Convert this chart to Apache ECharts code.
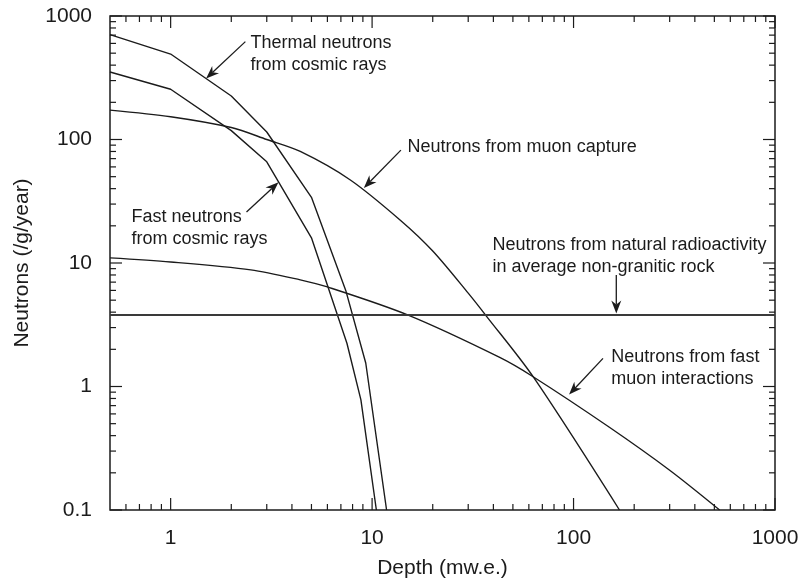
<!DOCTYPE html>
<html>
<head>
<meta charset="utf-8">
<title>Neutron production versus depth</title>
<script src="https://cdn.jsdelivr.net/npm/echarts@6/dist/echarts.min.js"></script>
<style>
  html, body { margin: 0; padding: 0; background: #ffffff; }
  #chart { width: 802px; height: 584px; }
</style>
</head>
<body>
<div id="chart"></div>
<script>
// Depth in metres of water equivalent, neutron yield in neutrons per gram per year.
const thermalDepth = [0.5, 1, 2, 3, 5, 7.4, 9.3, 11.8];
const thermalYield = [706, 492, 225, 115, 34, 6.0, 1.55, 0.1];

const fastDepth = [0.5, 1, 2, 3, 5, 7.5, 8.8, 10.5];
const fastYield = [352, 255, 118, 66, 16, 2.24, 0.78, 0.1];

const captureDepth = [0.5, 1, 2, 3, 4.4, 7.8, 13.9, 20, 30, 37, 63, 169];
const captureYield = [173, 153, 125, 100, 80, 47, 22, 12.5, 5.7, 3.7, 1.2, 0.1];

const fastMuonDepth = [0.5, 1, 2.5, 4.4, 6, 15, 43, 63, 150, 300, 531];
const fastMuonYield = [11, 10.2, 8.8, 7.3, 6.4, 3.8, 1.72, 1.2, 0.47, 0.21, 0.1];

const rockDepth = [0.5, 1000];
const rockYield = [3.8, 3.8];

const xTickLabels = ['1', '10', '100', '1000'];
const yTickLabels = ['0.1', '1', '10', '100', '1000'];

// Callouts: label lines, first-line anchor, arrow tail and arrow tip (data units).
const callouts = [
  { lines: ['Thermal neutrons', 'from cosmic rays'], at: [2.49, 604], from: [2.35, 620], to: [1.5, 312] },
  { lines: ['Neutrons from muon capture'], at: [15.0, 87.5], from: [13.9, 82], to: [9.1, 40.5] },
  { lines: ['Fast neutrons', 'from cosmic rays'], at: [0.64, 23.7], from: [2.38, 25.9], to: [3.43, 45] },
  { lines: ['Neutrons from natural radioactivity', 'in average non-granitic rock'], at: [39.6, 14.0], from: [163, 8.0], to: [163, 3.9] },
  { lines: ['Neutrons from fast', 'muon interactions'], at: [154, 1.74], from: [140, 1.69], to: [95, 0.86] }
];

const FONT = '"Liberation Sans", Arial, Helvetica, sans-serif';
const INK = '#1b1b1b';

function pairs(xs, ys) { return xs.map((x, i) => [x, ys[i]]); }

function isDecade(v) {
  const l = Math.log10(v);
  return Math.abs(l - Math.round(l)) < 1e-6;
}

// Log-axis tick marks: majors at decades, minors at 2..9 of each decade.
const X_MIN = 0.5, X_MAX = 1000, Y_MIN = 0.1, Y_MAX = 1000;
const tickMarks = [];
for (let d = -1; d <= 3; d++) {
  for (let k = 1; k <= 9; k++) {
    const v = +(k * Math.pow(10, d)).toPrecision(6);
    if (v > X_MIN && v <= X_MAX + 1e-9) tickMarks.push([v, Y_MIN, 0, k === 1 ? 1 : 0]);
    if (v >= Y_MIN - 1e-9 && v <= Y_MAX + 1e-9) tickMarks.push([X_MIN, v, 1, k === 1 ? 1 : 0]);
  }
}

function renderTick(params, api) {
  const cs = params.coordSys;
  const p = api.coord([api.value(0), api.value(1)]);
  const len = api.value(3) ? 12 : 6;
  const style = { stroke: INK, lineWidth: 1.2 };
  if (api.value(2) === 0) {
    return { type: 'group', children: [
      { type: 'line', shape: { x1: p[0], y1: cs.y + cs.height, x2: p[0], y2: cs.y + cs.height - len }, style },
      { type: 'line', shape: { x1: p[0], y1: cs.y, x2: p[0], y2: cs.y + len }, style }
    ] };
  }
  return { type: 'group', children: [
    { type: 'line', shape: { x1: cs.x, y1: p[1], x2: cs.x + len, y2: p[1] }, style },
    { type: 'line', shape: { x1: cs.x + cs.width, y1: p[1], x2: cs.x + cs.width - len, y2: p[1] }, style }
  ] };
}

function renderCallout(params, api) {
  const c = callouts[params.dataIndex];
  const t = api.coord(c.at);
  const a = api.coord(c.from);
  const b = api.coord(c.to);
  const dx = b[0] - a[0], dy = b[1] - a[1];
  const L = Math.sqrt(dx * dx + dy * dy);
  const ux = dx / L, uy = dy / L, nx = -uy, ny = ux;
  const headLen = 13, headHalf = 5, notch = 9;
  const base = [b[0] - ux * headLen, b[1] - uy * headLen];
  const inner = [b[0] - ux * notch, b[1] - uy * notch];
  return { type: 'group', children: [
    { type: 'line', shape: { x1: a[0], y1: a[1], x2: inner[0], y2: inner[1] }, style: { stroke: INK, lineWidth: 1.3 } },
    { type: 'polygon', shape: { points: [
        b,
        [base[0] + nx * headHalf, base[1] + ny * headHalf],
        inner,
        [base[0] - nx * headHalf, base[1] - ny * headHalf]
      ] }, style: { fill: INK } },
    { type: 'text', x: t[0], y: t[1] - 11, style: {
        text: c.lines.join('\n'), fill: INK, font: '18px ' + FONT,
        align: 'left', verticalAlign: 'top', lineHeight: 22 } }
  ] };
}

function curve(name, xs, ys, opts) {
  opts = opts || {};
  return {
    name, type: 'line', data: pairs(xs, ys), symbol: 'none',
    smooth: opts.smooth || false,
    lineStyle: { color: opts.color || INK, width: opts.width || 1.4 },
    clip: true, silent: true, z: 3
  };
}

const chart = echarts.init(document.getElementById('chart'), null, { renderer: 'canvas' });
chart.setOption({
  backgroundColor: '#ffffff',
  animation: false,
  textStyle: { fontFamily: FONT },
  grid: {
    left: 110, right: 27, top: 16, bottom: 74,
    containLabel: false, outerBoundsMode: 'none',
    show: true, borderColor: INK, borderWidth: 1.5, backgroundColor: 'transparent'
  },
  xAxis: {
    type: 'log', logBase: 10, min: X_MIN, max: X_MAX,
    name: 'Depth (mw.e.)', nameLocation: 'middle', nameGap: 48,
    nameTextStyle: { fontSize: 21, color: INK, fontFamily: FONT },
    axisLine: { show: false }, axisTick: { show: false }, splitLine: { show: false },
    axisLabel: {
      fontSize: 21, color: INK, margin: 18, fontFamily: FONT, hideOverlap: false,
      showMinLabel: true, showMaxLabel: true,
      formatter: v => isDecade(v) ? xTickLabels[Math.round(Math.log10(v))] || '' : ''
    }
  },
  yAxis: {
    type: 'log', logBase: 10, min: Y_MIN, max: Y_MAX,
    name: 'Neutrons (/g/year)', nameLocation: 'middle', nameGap: 77,
    nameTextStyle: { fontSize: 21, color: INK, fontFamily: FONT },
    axisLine: { show: false }, axisTick: { show: false }, splitLine: { show: false },
    axisLabel: {
      fontSize: 21, color: INK, margin: 18, fontFamily: FONT, hideOverlap: false,
      showMinLabel: true, showMaxLabel: true,
      formatter: v => isDecade(v) ? yTickLabels[Math.round(Math.log10(v)) + 1] || '' : ''
    }
  },
  series: [
    curve('Thermal neutrons from cosmic rays', thermalDepth, thermalYield),
    curve('Fast neutrons from cosmic rays', fastDepth, fastYield),
    curve('Neutrons from muon capture', captureDepth, captureYield, { smooth: 0.3 }),
    curve('Neutrons from fast muon interactions', fastMuonDepth, fastMuonYield, { smooth: 0.3 }),
    curve('Neutrons from natural radioactivity', rockDepth, rockYield, { width: 2, color: '#3a3a3a' }),
    {
      type: 'custom', name: 'ticks', data: tickMarks, renderItem: renderTick,
      silent: true, z: 5, clip: false
    },
    {
      type: 'custom', name: 'callouts', data: callouts.map(c => c.at), renderItem: renderCallout,
      silent: true, z: 6, clip: false
    }
  ]
});
</script>
</body>
</html>
